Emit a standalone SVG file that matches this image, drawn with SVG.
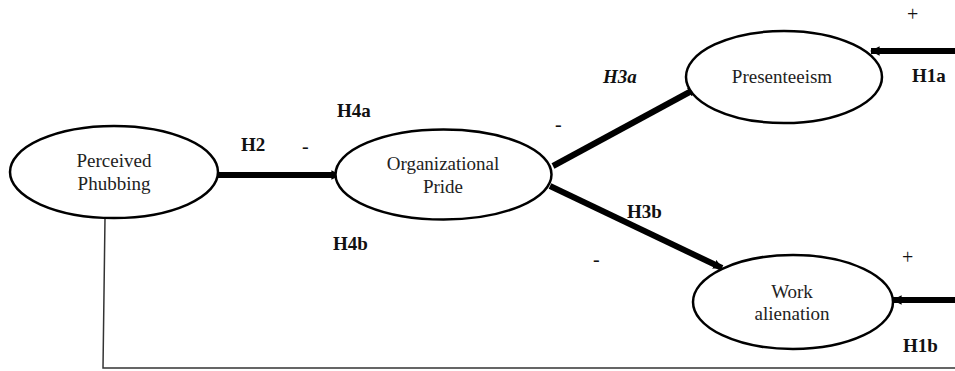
<svg xmlns="http://www.w3.org/2000/svg" width="955" height="371" viewBox="0 0 955 371">
<style>
.node ellipse{fill:#fff;stroke:#000;stroke-width:2.5}
text{font-family:'Liberation Serif','Times New Roman',Times,'DejaVu Serif',serif}
.nt{font-size:19px;fill:#222;text-anchor:middle}
.lb{font-size:19px;font-weight:bold;fill:#111}
.sg{font-size:20px;fill:#111}
.thick{stroke:#000;stroke-width:6;fill:none}
</style>
<defs>
<marker id="ah" viewBox="0 0 10 10" refX="9" refY="5" markerWidth="1.6" markerHeight="1.6" orient="auto" markerUnits="strokeWidth">
<path d="M0,0 L10,5 L0,10 z" fill="#000"/>
</marker>
</defs>
<g id="connectors">
<line class="thick" x1="218" y1="175" x2="340" y2="175" marker-end="url(#ah)"/>
<line class="thick" x1="553" y1="166" x2="697" y2="88" marker-end="url(#ah)"/>
<line class="thick" x1="550" y1="186" x2="722" y2="268" marker-end="url(#ah)"/>
<line class="thick" x1="955" y1="51" x2="871" y2="51" marker-end="url(#ah)"/>
<line class="thick" x1="955" y1="300" x2="893" y2="300" marker-end="url(#ah)"/>
<polyline points="105,218 103,368 955,368" fill="none" stroke="#333" stroke-width="1.5"/>
</g>
<g id="perceived-phubbing" class="node">
<ellipse cx="114" cy="172" rx="104" ry="46"/>
<text class="nt" x="114" y="167">Perceived</text>
<text class="nt" x="114" y="190">Phubbing</text>
</g>
<g id="organizational-pride" class="node">
<ellipse cx="443.5" cy="174.5" rx="108" ry="45"/>
<text class="nt" x="443" y="170">Organizational</text>
<text class="nt" x="443" y="193">Pride</text>
</g>
<g id="presenteeism" class="node">
<ellipse cx="784" cy="77" rx="98" ry="46"/>
<text class="nt" x="782" y="83">Presenteeism</text>
</g>
<g id="work-alienation" class="node">
<ellipse cx="793" cy="302" rx="100" ry="47"/>
<text class="nt" x="792" y="298">Work</text>
<text class="nt" x="792" y="320">alienation</text>
</g>
<g id="labels">
<text class="lb" x="241" y="151">H2</text>
<text class="sg" x="302" y="153">-</text>
<text class="lb" x="337" y="117">H4a</text>
<text class="lb" x="333" y="250">H4b</text>
<text class="sg" x="555" y="131">-</text>
<text class="lb" x="603" y="83" font-style="italic" font-size="24">H3a</text>
<text class="lb" x="627" y="218">H3b</text>
<text class="sg" x="593" y="266">-</text>
<text class="sg" x="907" y="21">+</text>
<text class="lb" x="912" y="82" font-size="22.5">H1a</text>
<text class="sg" x="902" y="264">+</text>
<text class="lb" x="903" y="352">H1b</text>
</g>
</svg>
